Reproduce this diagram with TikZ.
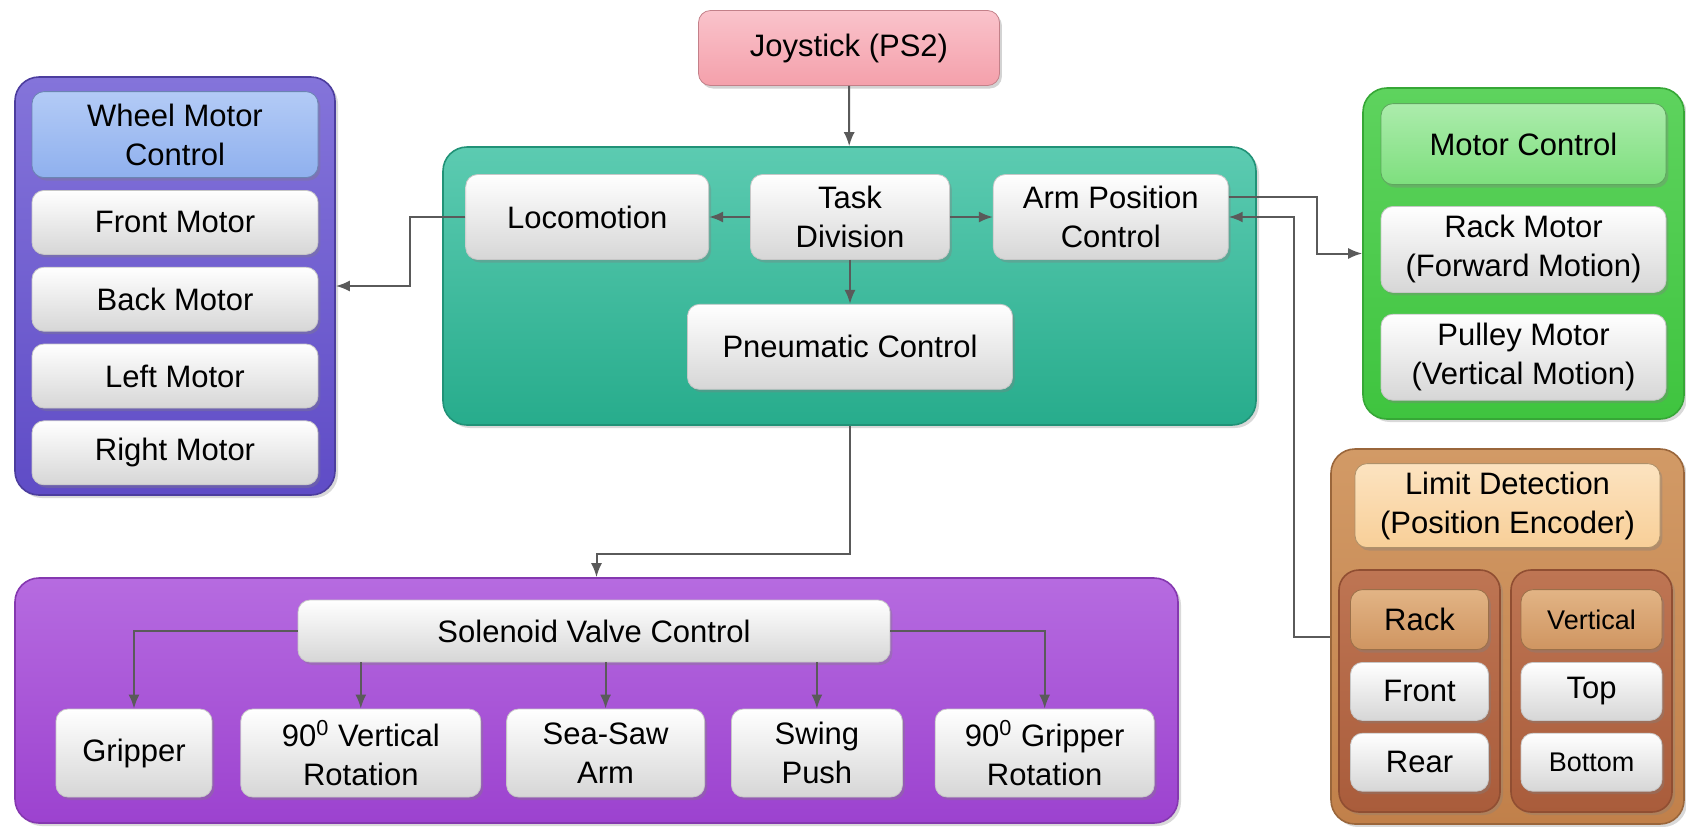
\documentclass[tikz,border=0pt]{standalone}
\usepackage{fontspec}
\setmainfont{Liberation Sans}
\usetikzlibrary{arrows.meta,positioning,shadows}
\definecolor{joypink}{HTML}{F4A0AB}
\definecolor{joypinklt}{HTML}{FAC3CB}
\definecolor{tealbox}{HTML}{27AC8C}
\definecolor{tealboxlt}{HTML}{5CCBB1}
\definecolor{wheelpurple}{HTML}{5F4CC6}
\definecolor{wheelpurplelt}{HTML}{8474DA}
\definecolor{wheelblue}{HTML}{8FB0EE}
\definecolor{wheelbluelt}{HTML}{B3CBF6}
\definecolor{motorgreen}{HTML}{3FC43F}
\definecolor{motorgreenlt}{HTML}{5ED35E}
\definecolor{headgreen}{HTML}{7EDF7E}
\definecolor{headgreenlt}{HTML}{ACECAC}
\definecolor{limitorange}{HTML}{C1804A}
\definecolor{limitorangelt}{HTML}{D29A66}
\definecolor{headorange}{HTML}{F8CF98}
\definecolor{headorangelt}{HTML}{FCE3C0}
\definecolor{colbrown}{HTML}{A95C3B}
\definecolor{colbrownlt}{HTML}{BE7553}
\definecolor{rackbrown}{HTML}{CF9561}
\definecolor{rackbrownlt}{HTML}{E2B485}
\definecolor{valvepurple}{HTML}{9C42CF}
\definecolor{valvepurplelt}{HTML}{B66BE0}
\definecolor{arrowgray}{HTML}{5A5A5A}
\newcommand\boxfont{\fontsize{15.5}{19.5}\selectfont}
\newcommand\smallboxfont{\fontsize{13.5}{16}\selectfont}
\tikzset{
  group/.style={
    rounded corners=12pt,
    line width=0.8pt,
    inner sep=0pt,
    drop shadow={shadow xshift=1.5pt,shadow yshift=-1.5pt,opacity=0.3}
  },
  item/.style={
    draw=black!22,
    rounded corners=6pt,
    top color=white,
    bottom color=black!16,
    align=center,
    font=\boxfont,
    inner sep=0pt,
    minimum height=32pt,
    drop shadow={shadow xshift=1.2pt,shadow yshift=-1.5pt,opacity=0.35}
  },
  arrow/.style={
    -{Latex[length=7pt,width=5.5pt]},
    line width=1pt,
    draw=arrowgray
  }
}

\begin{document}
\begin{tikzpicture}[x=0.5pt,y=-0.5pt]
\useasboundingbox (0,0) rectangle (1686,826);

% group boxes
\node[group, draw=tealbox!85!black, top color=tealboxlt, bottom color=tealbox,
  minimum width=406.5pt, minimum height=139pt] (taskgroup) at (849.5,286) {};
\node[group, draw=wheelpurple!80!black, top color=wheelpurplelt, bottom color=wheelpurple,
  minimum width=160pt, minimum height=209pt] (wheelgroup) at (175,286) {};
\node[group, draw=motorgreen!85!black, top color=motorgreenlt, bottom color=motorgreen,
  minimum width=160.5pt, minimum height=165.5pt] (motorgroup) at (1523.5,253.5) {};
\node[group, draw=limitorange!80!black, top color=limitorangelt, bottom color=limitorange,
  minimum width=176.5pt, minimum height=187.5pt] (limitgroup) at (1507.5,636.5) {};
\node[group, draw=valvepurple!85!black, top color=valvepurplelt, bottom color=valvepurple,
  minimum width=581.5pt, minimum height=122.5pt] (valvegroup) at (596.5,700.5) {};

% joystick and task division
\node[item, draw=joypink!80!black, top color=joypinklt, bottom color=joypink,
  minimum width=150.5pt, minimum height=37.5pt] (joystick) at (849,48) {Joystick (PS2)};
\node[item, minimum width=99.5pt, minimum height=42.5pt] (taskdiv) at (850,217) {Task\\Division};
\node[item, minimum width=121.5pt, minimum height=42.5pt, left=20.5pt of taskdiv] (locomotion) {Locomotion};
\node[item, minimum width=117.5pt, minimum height=42.5pt, right=21.5pt of taskdiv] (armpos) {Arm Position\\Control};
\node[item, minimum width=162.5pt, minimum height=42.5pt, below=22pt of taskdiv] (pneumatic) {Pneumatic Control};

% wheel motors
\node[item, draw=wheelblue!75!black, top color=wheelbluelt, bottom color=wheelblue,
  minimum width=143pt, minimum height=43pt, below=7.5pt of wheelgroup.north] (wheelhead) {Wheel Motor\\Control};
\node[item, minimum width=143pt, below=6pt of wheelhead] (frontmotor) {Front Motor};
\node[item, minimum width=143pt, below=6pt of frontmotor] (backmotor) {Back Motor};
\node[item, minimum width=143pt, below=6pt of backmotor] (leftmotor) {Left Motor};
\node[item, minimum width=143pt, below=6pt of leftmotor] (rightmotor) {Right Motor};

% arm motors
\node[item, draw=headgreen!75!black, top color=headgreenlt, bottom color=headgreen,
  minimum width=142.5pt, minimum height=40.5pt, below=8pt of motorgroup.north] (motorhead) {Motor Control};
\node[item, minimum width=142.5pt, minimum height=43pt, below=10.5pt of motorhead] (rackmotor) {Rack Motor\\(Forward Motion)};
\node[item, minimum width=142.5pt, minimum height=43pt, below=10.5pt of rackmotor] (pulleymotor) {Pulley Motor\\(Vertical Motion)};

% limit detection
\node[item, draw=headorange!70!black, top color=headorangelt, bottom color=headorange,
  minimum width=152.5pt, minimum height=42pt, below=7.5pt of limitgroup.north] (limithead) {Limit Detection\\(Position Encoder)};
\node[group, rounded corners=10pt, draw=colbrown!85!black, top color=colbrownlt, bottom color=colbrown,
  minimum width=80.5pt, minimum height=121pt] (rackcol) at (1419.5,691) {};
\node[group, rounded corners=10pt, draw=colbrown!85!black, top color=colbrownlt, bottom color=colbrown,
  minimum width=80.5pt, minimum height=121pt] (vertcol) at (1591.5,691) {};
\node[item, draw=rackbrown!75!black, top color=rackbrownlt, bottom color=rackbrown,
  minimum width=69pt, minimum height=30pt, below=10pt of rackcol.north] (rackhead) {Rack};
\node[item, minimum width=69pt, minimum height=29pt, below=6pt of rackhead] (front) {Front};
\node[item, minimum width=69pt, minimum height=29pt, below=6pt of front] (rear) {Rear};
\node[item, draw=rackbrown!75!black, top color=rackbrownlt, bottom color=rackbrown, font=\smallboxfont,
  minimum width=70.5pt, minimum height=30pt, below=10pt of vertcol.north] (verthead) {Vertical};
\node[item, minimum width=70.5pt, minimum height=29pt, below=6pt of verthead] (top) {Top};
\node[item, font=\smallboxfont, minimum width=70.5pt, minimum height=29pt, below=6pt of top] (bottom) {Bottom};

% solenoid valves
\node[item, minimum width=296pt, minimum height=31pt] (solenoid) at (594,631) {Solenoid Valve Control};
\node[item, minimum width=78pt, minimum height=44pt] (gripper) at (134,753) {Gripper};
\node[item, minimum width=120pt, minimum height=44pt, right=14pt of gripper] (vertrot) {90\textsuperscript{0} Vertical\\Rotation};
\node[item, minimum width=99pt, minimum height=44pt, right=12.5pt of vertrot] (seesaw) {Sea-Saw\\Arm};
\node[item, minimum width=85.5pt, minimum height=44pt, right=13pt of seesaw] (swing) {Swing\\Push};
\node[item, minimum width=109.5pt, minimum height=44pt, right=16pt of swing] (griprot) {90\textsuperscript{0} Gripper\\Rotation};

% connectors
\draw[arrow] (joystick) -- (taskgroup);
\draw[arrow] (taskdiv) -- (locomotion);
\draw[arrow] (taskdiv) -- (armpos);
\draw[arrow] (taskdiv) -- (pneumatic);
\draw[arrow] (locomotion.west) -- ++(-55,0) |- (wheelgroup.east);
\draw[arrow] ([yshift=10pt]armpos.east) -- ++(88,0) |- (motorgroup.west);
\draw[arrow] (limitgroup.west) -- ++(-36,0) |- (armpos.east);
\draw[arrow] (taskgroup.south) -- ++(0,128) -| (valvegroup.north);
\draw[arrow] (solenoid.west) -| (gripper);
\draw[arrow] (solenoid.east) -| (griprot);
\draw[arrow] (solenoid.south -| vertrot) -- (vertrot);
\draw[arrow] (solenoid.south -| seesaw) -- (seesaw);
\draw[arrow] (solenoid.south -| swing) -- (swing);

\end{tikzpicture}
\end{document}
